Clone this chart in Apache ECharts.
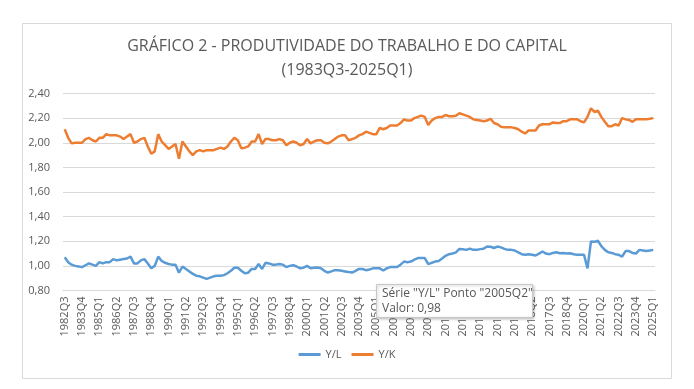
<!DOCTYPE html>
<html><head><meta charset="utf-8">
<script src="https://cdn.jsdelivr.net/npm/echarts@6/dist/echarts.min.js"></script>
<style>html,body{margin:0;padding:0;background:#fff}#c{width:694px;height:389px}</style>
</head><body><div id="c"></div>
<script>
var startYear = 1982, startQ = 3, endYear = 2025, endQ = 1;
var categories = [];
(function(){var y=startYear,q=startQ;while(y<endYear||(y===endYear&&q<=endQ)){categories.push(y+'Q'+q);q++;if(q>4){q=1;y++;}}})();

var seriesNames = ['Y/L', 'Y/K'];
var yL = [1.07,1.03,1.01,1.00,0.995,0.99,1.005,1.02,1.01,1.00,
1.03,1.02,1.03,1.03,1.055,1.045,1.05,1.055,1.06,1.075,
1.02,1.02,1.045,1.055,1.02,0.98,1.00,1.075,1.04,1.025,
1.015,1.01,1.01,0.945,0.995,0.975,0.955,0.935,0.92,0.915,
0.905,0.895,0.905,0.915,0.92,0.92,0.925,0.94,0.96,0.985,
0.985,0.96,0.94,0.945,0.975,0.975,1.015,0.975,1.025,1.02,
1.01,1.01,1.015,1.01,0.99,1.00,1.005,0.995,0.98,0.985,
1.00,0.98,0.985,0.987,0.98,0.96,0.946,0.955,0.965,0.965,
0.96,0.955,0.95,0.946,0.96,0.975,0.975,0.965,0.97,0.98,
0.98,0.98,0.962,0.98,0.99,0.99,0.99,1.01,1.035,1.03,
1.035,1.05,1.063,1.063,1.063,1.014,1.025,1.035,1.04,1.06,
1.082,1.095,1.10,1.11,1.138,1.135,1.13,1.14,1.13,1.13,
1.136,1.14,1.157,1.155,1.145,1.157,1.15,1.138,1.13,1.13,
1.125,1.11,1.095,1.09,1.095,1.09,1.084,1.10,1.117,1.10,
1.095,1.105,1.111,1.103,1.105,1.10,1.103,1.095,1.09,1.09,
1.09,0.98,1.198,1.195,1.204,1.16,1.13,1.11,1.105,1.095,
1.09,1.076,1.12,1.12,1.105,1.10,1.13,1.125,1.12,1.125,1.13];
var yK = [2.11,2.04,1.995,2.00,2.00,2.00,2.03,2.04,2.02,2.01,
2.04,2.04,2.07,2.06,2.06,2.06,2.05,2.03,2.05,2.07,
2.00,2.01,2.03,2.04,1.97,1.91,1.93,2.07,2.01,1.98,
1.95,1.97,1.99,1.87,2.01,1.97,1.93,1.90,1.93,1.94,
1.93,1.94,1.94,1.94,1.95,1.96,1.95,1.97,2.01,2.04,
2.02,1.955,1.96,1.97,2.01,2.01,2.07,1.99,2.03,2.03,
2.02,2.02,2.03,2.02,1.98,2.00,2.01,2.00,1.98,1.99,
2.03,1.995,2.01,2.02,2.02,2.00,1.995,2.01,2.03,2.05,
2.06,2.06,2.02,2.03,2.04,2.06,2.07,2.09,2.08,2.07,
2.07,2.12,2.11,2.12,2.14,2.14,2.14,2.16,2.19,2.18,
2.18,2.20,2.21,2.22,2.21,2.145,2.18,2.20,2.21,2.21,
2.225,2.215,2.215,2.22,2.24,2.23,2.22,2.21,2.19,2.185,
2.18,2.175,2.18,2.195,2.16,2.15,2.13,2.125,2.125,2.125,
2.12,2.11,2.09,2.075,2.10,2.10,2.10,2.14,2.15,2.15,
2.15,2.165,2.16,2.16,2.175,2.175,2.19,2.19,2.19,2.175,
2.165,2.21,2.28,2.25,2.26,2.21,2.17,2.135,2.135,2.15,
2.14,2.20,2.19,2.185,2.17,2.19,2.19,2.19,2.19,2.195,2.20];
var yTicks = {min: 0.8, max: 2.4, step: 0.2};
var tipCategory = '2005Q2';

var chart = echarts.init(document.getElementById('c'), null, {renderer:'canvas'});
var font = '"Open Sans", "Noto Sans", sans-serif';
var tipIdx = categories.indexOf(tipCategory);
var tipVal = yL[tipIdx].toFixed(2).replace('.', ',');
var titleStyle = {fontSize: 16, fontWeight: 'normal', color: '#595959', fontFamily: font};
chart.setOption({
  animation: false,
  backgroundColor: '#fff',
  textStyle: {fontFamily: font},
  title: [
    {text: 'GRÁFICO 2 - PRODUTIVIDADE DO TRABALHO E DO CAPITAL', left: 'center', top: 33, textStyle: titleStyle},
    {text: '(1983Q3-2025Q1)', left: 'center', top: 57, textStyle: titleStyle}
  ],
  legend: {
    data: seriesNames, bottom: 24, left: 'center', icon: 'rect', itemWidth: 22, itemHeight: 3, itemGap: 10,
    textStyle: {fontSize: 11, color: '#595959', fontFamily: font}
  },
  grid: {left: 63, right: 39, top: 93.5, height: 197, containLabel: false},
  xAxis: {
    type: 'category', data: categories, boundaryGap: true,
    axisLine: {show: true, lineStyle: {color: '#d9d9d9'}},
    axisTick: {show: false},
    axisLabel: {interval: 4, rotate: 90, fontSize: 11, color: '#595959', margin: 6, fontFamily: font}
  },
  yAxis: {
    type: 'value', min: yTicks.min, max: yTicks.max, interval: yTicks.step,
    axisLine: {show: false}, axisTick: {show: false},
    splitLine: {lineStyle: {color: '#d9d9d9', width: 1}},
    axisLabel: {fontSize: 11, color: '#595959', margin: 13, fontFamily: font,
      formatter: function(v){return v.toFixed(2).replace('.', ',');}}
  },
  series: [
    {name: seriesNames[0], type: 'line', data: yL, symbol: 'none', lineStyle: {width: 2.5, color: '#5b9bd5'}, itemStyle: {color: '#5b9bd5'}},
    {name: seriesNames[1], type: 'line', data: yK, symbol: 'none', lineStyle: {width: 2.5, color: '#ed7d31'}, itemStyle: {color: '#ed7d31'}}
  ],
  graphic: [
    {type: 'rect', left: 20, top: 21, z: -1, shape: {width: 649, height: 355}, style: {fill: 'none', stroke: '#d9d9d9', lineWidth: 1}},
    {type: 'rect', left: 376, top: 284, z: 100, zlevel: 1, shape: {width: 156, height: 33}, style: {fill: '#ffffff', stroke: '#c8c8c8', lineWidth: 1, shadowBlur: 3, shadowColor: 'rgba(0,0,0,0.25)', shadowOffsetX: 1, shadowOffsetY: 1}},
    {type: 'text', left: 382, top: 286, z: 101, zlevel: 1, style: {text: 'Série "' + seriesNames[0] + '" Ponto "' + tipCategory + '"\nValor: ' + tipVal, fill: '#575757', fontSize: 12, lineHeight: 15, fontFamily: font}}
  ]
});
</script></body></html>
